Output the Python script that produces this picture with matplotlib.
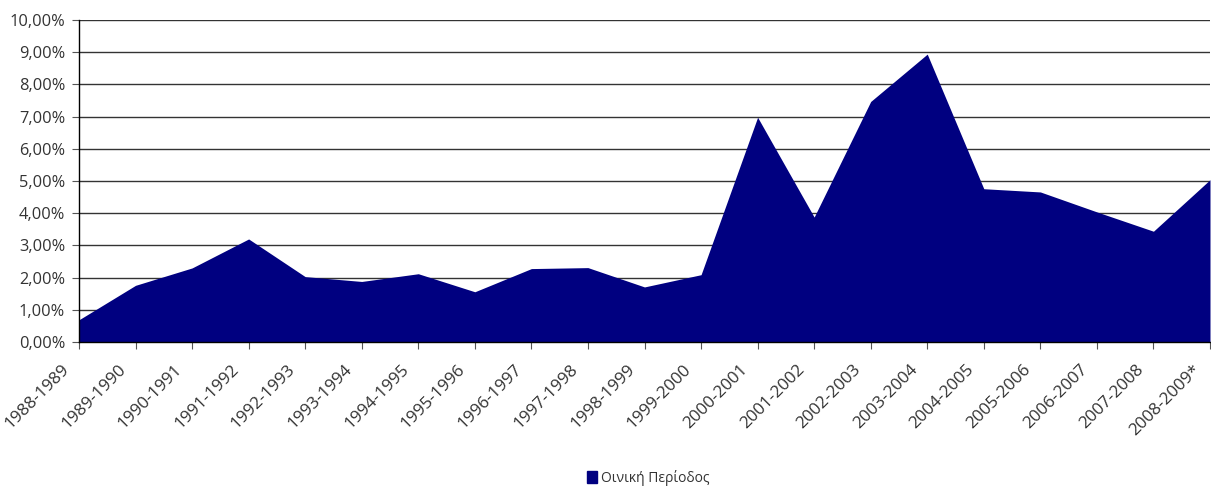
import matplotlib.pyplot as plt
from matplotlib.patches import Patch
from matplotlib.ticker import FuncFormatter
from matplotlib.transforms import ScaledTranslation

plt.rcParams['font.family'] = ['Open Sans', 'DejaVu Sans']

# periodoi kai pososta
periodoi = ['1988-1989', '1989-1990', '1990-1991', '1991-1992', '1992-1993',
            '1993-1994', '1994-1995', '1995-1996', '1996-1997', '1997-1998',
            '1998-1999', '1999-2000', '2000-2001', '2001-2002', '2002-2003',
            '2003-2004', '2004-2005', '2005-2006', '2006-2007', '2007-2008',
            '2008-2009*']
pososta = [0.69, 1.76, 2.30, 3.20, 2.03, 1.88, 2.12, 1.56, 2.28, 2.31,
           1.71, 2.09, 6.98, 3.88, 7.47, 8.94, 4.76, 4.66, 4.04, 3.44, 5.04]
onoma_seiras = 'Οινική Περίοδος'

xronia = list(range(len(periodoi)))

fig = plt.figure(figsize=(12.11, 4.86), dpi=100)
ax = fig.add_axes([79 / 1211, 1 - 342 / 486, 1131 / 1211, 322 / 486])

ax.fill_between(xronia, pososta, 0, color='#000080', lw=0, zorder=2)

ax.set_xlim(0, len(periodoi) - 1)
ax.set_ylim(0, 10)
ax.set_yticks(range(0, 11))
ax.yaxis.set_major_formatter(FuncFormatter(lambda v, p: ('%.2f%%' % v).replace('.', ',')))
ax.grid(axis='y', color='#333333', lw=1, zorder=1)

ax.set_xticks(xronia)
ax.set_xticklabels([])

# etiketes tou x me mikri metatopisi katw-aristera
metafora = ax.get_xaxis_transform() + ScaledTranslation(-12 / 100, -25 / 100, fig.dpi_scale_trans)
for i, p in zip(xronia, periodoi):
    ax.text(i, 0, p, transform=metafora, rotation=45, ha='right', va='center',
            rotation_mode='anchor', fontsize=12.3, color='#333333', clip_on=False)

for s in ['right', 'top']:
    ax.spines[s].set_visible(False)
for s in ['left', 'bottom']:
    ax.spines[s].set_color('black')
    ax.spines[s].set_linewidth(1)
    ax.spines[s].set_zorder(3)

ax.tick_params(axis='both', labelcolor='#333333', color='#555555',
               length=5, direction='out')
ax.tick_params(axis='y', pad=5, labelsize=11.8)

fig.legend(handles=[Patch(color='#000080', label=onoma_seiras)],
           loc='center', bbox_to_anchor=(648 / 1211, 1 - 478 / 486),
           frameon=False, fontsize=10, handlelength=0.7, handleheight=0.9,
           handletextpad=0.3, labelcolor='#333333')

fig.savefig('out.png', dpi=100)
